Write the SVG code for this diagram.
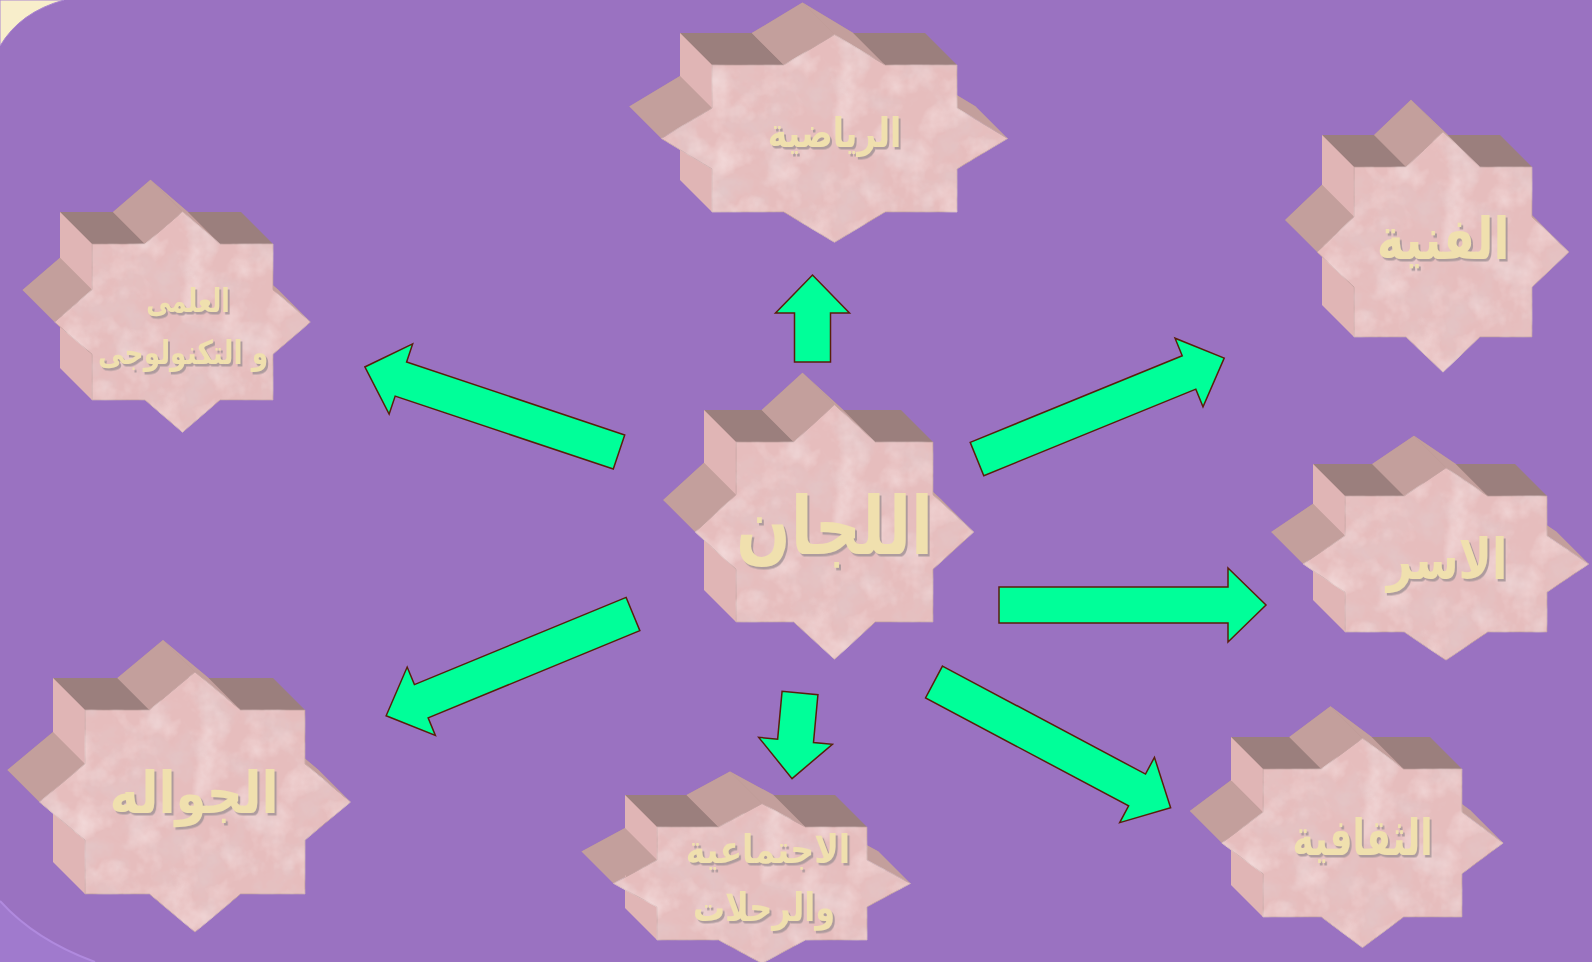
<svg xmlns="http://www.w3.org/2000/svg" width="1592" height="962" viewBox="0 0 1592 962">
<style>
.bk{fill:#b89592}
.md{fill:#c39f9c}
.dk{fill:#9b7f7d}
.lt{fill:#e0b5b5}
.fr{fill:#e6bdbd;stroke:#c4a3a1;stroke-width:1;filter:url(#granite)}
.tx{font-family:"DejaVu Sans",sans-serif;font-weight:bold;fill:#f0e0ae;text-anchor:middle;filter:url(#tsh)}
.ar{fill:#00ff99;stroke:#5a1e0a;stroke-width:1.5;stroke-linejoin:miter}
</style>
<defs>
<filter id="granite" x="0" y="0" width="1" height="1">
<feTurbulence type="fractalNoise" baseFrequency="0.03" numOctaves="4" seed="7" result="n"/>
<feColorMatrix in="n" type="matrix" values="0 0 0 0 0.76  0 0 0 0 0.58  0 0 0 0 0.59  1.7 0 0 0 -0.74" result="dkn"/>
<feColorMatrix in="n" type="matrix" values="0 0 0 0 0.95  0 0 0 0 0.8  0 0 0 0 0.8  0 1.3 0 0 -0.6" result="ltn"/>
<feMerge result="m"><feMergeNode in="SourceGraphic"/><feMergeNode in="dkn"/><feMergeNode in="ltn"/></feMerge>
<feComposite in="m" in2="SourceGraphic" operator="in"/>
</filter>
<filter id="tsh" x="-10%" y="-20%" width="130%" height="150%">
<feDropShadow dx="2.5" dy="2.5" stdDeviation="0.6" flood-color="#a8979a" flood-opacity="0.9"/>
</filter>
<polygon id="fA" points="0,-127.3 40.8,-90 98.5,-90 98.5,-37.3 139.3,0 98.5,37.3 98.5,90 40.8,90 0,127.3 -40.8,90 -98.5,90 -98.5,37.3 -139.3,0 -98.5,-37.3 -98.5,-90 -40.8,-90"/>
<polygon id="fB" points="0,-103.9 50.7,-73.5 122.5,-73.5 122.5,-30.4 173.2,0 122.5,30.4 122.5,73.5 50.7,73.5 0,103.9 -50.7,73.5 -122.5,73.5 -122.5,30.4 -173.2,0 -122.5,-30.4 -122.5,-73.5 -50.7,-73.5"/>
<polygon id="fC" points="0,-110.3 37.5,-78 90.5,-78 90.5,-32.3 128,0 90.5,32.3 90.5,78 37.5,78 0,110.3 -37.5,78 -90.5,78 -90.5,32.3 -128,0 -90.5,-32.3 -90.5,-78 -37.5,-78"/>
<polygon id="fD" points="0,-120.2 36.9,-85 89,-85 89,-35.2 125.9,0 89,35.2 89,85 36.9,85 0,120.2 -36.9,85 -89,85 -89,35.2 -125.9,0 -89,-35.2 -89,-85 -36.9,-85"/>
<polygon id="fE" points="0,-96.2 41.8,-68 101,-68 101,-28.2 142.8,0 101,28.2 101,68 41.8,68 0,96.2 -41.8,68 -101,68 -101,28.2 -142.8,0 -101,-28.2 -101,-68 -41.8,-68"/>
<polygon id="fF" points="0,-104.7 41.2,-74 99.5,-74 99.5,-30.7 140.7,0 99.5,30.7 99.5,74 41.2,74 0,104.7 -41.2,74 -99.5,74 -99.5,30.7 -140.7,0 -99.5,-30.7 -99.5,-74 -41.2,-74"/>
<polygon id="fG" points="0,-79.9 43.5,-56.5 105,-56.5 105,-23.4 148.5,0 105,23.4 105,56.5 43.5,56.5 0,79.9 -43.5,56.5 -105,56.5 -105,23.4 -148.5,0 -105,-23.4 -105,-56.5 -43.5,-56.5"/>
<polygon id="fH" points="0,-130.1 45.6,-92 110,-92 110,-38.1 155.6,0 110,38.1 110,92 45.6,92 0,130.1 -45.6,92 -110,92 -110,38.1 -155.6,0 -110,-38.1 -110,-92 -45.6,-92"/>
</defs>

<rect width="1592" height="962" fill="#9a72c1"/>
<path d="M0,0 H64 Q20,12 0,46 Z" fill="#f8eecb" stroke="#a985d0" stroke-width="1"/>
<path d="M0,901 Q35,940 95,962 L0,962 Z" fill="#a07acd"/>
<path d="M0,901 Q35,940 95,962" fill="none" stroke="#b08ade" stroke-width="2"/>

<g id="node-lijan" transform="translate(834.5,532)">
<use href="#fA" class="bk" transform="translate(-32,-32)"/>
<polygon class="md" points="0,-127.3 40.8,-90 8.8,-122 -32,-159.3"/>
<polygon class="md" points="98.5,-37.3 139.3,0 107.3,-32 66.5,-69.3"/>
<polygon class="dk" points="-98.5,-90 -40.8,-90 -72.8,-122 -130.5,-122"/>
<polygon class="dk" points="40.8,-90 98.5,-90 66.5,-122 8.8,-122"/>
<polygon class="md" points="-40.8,-90 0,-127.3 -32,-159.3 -72.8,-122"/>
<polygon class="md" points="-139.3,0 -98.5,-37.3 -130.5,-69.3 -171.3,-32"/>
<polygon class="lt" points="-98.5,-37.3 -98.5,-90 -130.5,-122 -130.5,-69.3"/>
<polygon class="lt" points="-98.5,90 -98.5,37.3 -130.5,5.3 -130.5,58"/>
<use href="#fA" class="fr"/>
<text class="tx" transform="translate(0,22) scale(0.8,1)" font-size="80">اللجان</text>
</g>

<g id="node-riyadiya" transform="translate(834.5,138.5)">
<use href="#fB" class="bk" transform="translate(-32,-32)"/>
<polygon class="md" points="0,-103.9 50.7,-73.5 18.7,-105.5 -32,-135.9"/>
<polygon class="md" points="122.5,-30.4 173.2,0 141.2,-32 90.5,-62.4"/>
<polygon class="dk" points="-122.5,-73.5 -50.7,-73.5 -82.7,-105.5 -154.5,-105.5"/>
<polygon class="dk" points="50.7,-73.5 122.5,-73.5 90.5,-105.5 18.7,-105.5"/>
<polygon class="md" points="-50.7,-73.5 0,-103.9 -32,-135.9 -82.7,-105.5"/>
<polygon class="md" points="-173.2,0 -122.5,-30.4 -154.5,-62.4 -205.2,-32"/>
<polygon class="lt" points="-122.5,-30.4 -122.5,-73.5 -154.5,-105.5 -154.5,-62.4"/>
<polygon class="lt" points="-122.5,73.5 -122.5,30.4 -154.5,-1.6 -154.5,41.5"/>
<use href="#fB" class="fr"/>
<text class="tx" transform="translate(0,8) scale(0.8,1)" font-size="41">الرياضية</text>
</g>

<g id="node-ilmi" transform="translate(182.5,322)">
<use href="#fC" class="bk" transform="translate(-32,-32)"/>
<polygon class="md" points="0,-110.3 37.5,-78 5.5,-110 -32,-142.3"/>
<polygon class="md" points="90.5,-32.3 128,0 96,-32 58.5,-64.3"/>
<polygon class="dk" points="-90.5,-78 -37.5,-78 -69.5,-110 -122.5,-110"/>
<polygon class="dk" points="37.5,-78 90.5,-78 58.5,-110 5.5,-110"/>
<polygon class="md" points="-37.5,-78 0,-110.3 -32,-142.3 -69.5,-110"/>
<polygon class="md" points="-128,0 -90.5,-32.3 -122.5,-64.3 -160,-32"/>
<polygon class="lt" points="-90.5,-32.3 -90.5,-78 -122.5,-110 -122.5,-64.3"/>
<polygon class="lt" points="-90.5,78 -90.5,32.3 -122.5,0.3 -122.5,46"/>
<use href="#fC" class="fr"/>
<text class="tx" transform="translate(5.5,-10) scale(0.75,1)" font-size="33">العلمى</text>
<text class="tx" transform="translate(0.5,42) scale(0.8,1)" font-size="33">و التكنولوجى</text>
</g>

<g id="node-fanniya" transform="translate(1443,252)">
<use href="#fD" class="bk" transform="translate(-32,-32)"/>
<polygon class="md" points="0,-120.2 36.9,-85 4.9,-117 -32,-152.2"/>
<polygon class="md" points="89,-35.2 125.9,0 93.9,-32 57,-67.2"/>
<polygon class="dk" points="-89,-85 -36.9,-85 -68.9,-117 -121,-117"/>
<polygon class="dk" points="36.9,-85 89,-85 57,-117 4.9,-117"/>
<polygon class="md" points="-36.9,-85 0,-120.2 -32,-152.2 -68.9,-117"/>
<polygon class="md" points="-125.9,0 -89,-35.2 -121,-67.2 -157.9,-32"/>
<polygon class="lt" points="-89,-35.2 -89,-85 -121,-117 -121,-67.2"/>
<polygon class="lt" points="-89,85 -89,35.2 -121,3.2 -121,53"/>
<use href="#fD" class="fr"/>
<text class="tx" transform="translate(0,7) scale(0.8,1)" font-size="58">الفنية</text>
</g>

<g id="node-usar" transform="translate(1446,564)">
<use href="#fE" class="bk" transform="translate(-32,-32)"/>
<polygon class="md" points="0,-96.2 41.8,-68 9.8,-100 -32,-128.2"/>
<polygon class="md" points="101,-28.2 142.8,0 110.8,-32 69,-60.2"/>
<polygon class="dk" points="-101,-68 -41.8,-68 -73.8,-100 -133,-100"/>
<polygon class="dk" points="41.8,-68 101,-68 69,-100 9.8,-100"/>
<polygon class="md" points="-41.8,-68 0,-96.2 -32,-128.2 -73.8,-100"/>
<polygon class="md" points="-142.8,0 -101,-28.2 -133,-60.2 -174.8,-32"/>
<polygon class="lt" points="-101,-28.2 -101,-68 -133,-100 -133,-60.2"/>
<polygon class="lt" points="-101,68 -101,28.2 -133,-3.8 -133,36"/>
<use href="#fE" class="fr"/>
<text class="tx" transform="translate(1,15) scale(0.8,1)" font-size="56">الاسر</text>
</g>

<g id="node-thaqafiya" transform="translate(1362.5,843)">
<use href="#fF" class="bk" transform="translate(-32,-32)"/>
<polygon class="md" points="0,-104.7 41.2,-74 9.2,-106 -32,-136.7"/>
<polygon class="md" points="99.5,-30.7 140.7,0 108.7,-32 67.5,-62.7"/>
<polygon class="dk" points="-99.5,-74 -41.2,-74 -73.2,-106 -131.5,-106"/>
<polygon class="dk" points="41.2,-74 99.5,-74 67.5,-106 9.2,-106"/>
<polygon class="md" points="-41.2,-74 0,-104.7 -32,-136.7 -73.2,-106"/>
<polygon class="md" points="-140.7,0 -99.5,-30.7 -131.5,-62.7 -172.7,-32"/>
<polygon class="lt" points="-99.5,-30.7 -99.5,-74 -131.5,-106 -131.5,-62.7"/>
<polygon class="lt" points="-99.5,74 -99.5,30.7 -131.5,-1.3 -131.5,42"/>
<use href="#fF" class="fr"/>
<text class="tx" transform="translate(0,12) scale(0.72,1)" font-size="50">الثقافية</text>
</g>

<g id="node-ijtimaiya" transform="translate(762,883.5)">
<use href="#fG" class="bk" transform="translate(-32,-32)"/>
<polygon class="md" points="0,-79.9 43.5,-56.5 11.5,-88.5 -32,-111.9"/>
<polygon class="md" points="105,-23.4 148.5,0 116.5,-32 73,-55.4"/>
<polygon class="dk" points="-105,-56.5 -43.5,-56.5 -75.5,-88.5 -137,-88.5"/>
<polygon class="dk" points="43.5,-56.5 105,-56.5 73,-88.5 11.5,-88.5"/>
<polygon class="md" points="-43.5,-56.5 0,-79.9 -32,-111.9 -75.5,-88.5"/>
<polygon class="md" points="-148.5,0 -105,-23.4 -137,-55.4 -180.5,-32"/>
<polygon class="lt" points="-105,-23.4 -105,-56.5 -137,-88.5 -137,-55.4"/>
<polygon class="lt" points="-105,56.5 -105,23.4 -137,-8.6 -137,24.5"/>
<use href="#fG" class="fr"/>
<text class="tx" transform="translate(6,-21) scale(0.85,1)" font-size="39">الاجتماعية</text>
<text class="tx" transform="translate(2,37) scale(0.82,1)" font-size="39">والرحلات</text>
</g>

<g id="node-jawwala" transform="translate(195,802)">
<use href="#fH" class="bk" transform="translate(-32,-32)"/>
<polygon class="md" points="0,-130.1 45.6,-92 13.6,-124 -32,-162.1"/>
<polygon class="md" points="110,-38.1 155.6,0 123.6,-32 78,-70.1"/>
<polygon class="dk" points="-110,-92 -45.6,-92 -77.6,-124 -142,-124"/>
<polygon class="dk" points="45.6,-92 110,-92 78,-124 13.6,-124"/>
<polygon class="md" points="-45.6,-92 0,-130.1 -32,-162.1 -77.6,-124"/>
<polygon class="md" points="-155.6,0 -110,-38.1 -142,-70.1 -187.6,-32"/>
<polygon class="lt" points="-110,-38.1 -110,-92 -142,-124 -142,-70.1"/>
<polygon class="lt" points="-110,92 -110,38.1 -142,6.1 -142,60"/>
<use href="#fH" class="fr"/>
<text class="tx" transform="translate(-1,11) scale(0.86,1)" font-size="58">الجواله</text>
</g>

<g id="connectors">
<polygon class="ar" transform="translate(812.5,362) rotate(-90)" points="0,-18 49,-18 49,-37 87,0 49,37 49,18 0,18"/>
<polygon class="ar" transform="translate(619,452) rotate(-161.5)" points="0,-18 230,-18 230,-37 268,0 230,37 230,18 0,18"/>
<polygon class="ar" transform="translate(977,459) rotate(-22.2)" points="0,-18 229,-18 229,-37 267,0 229,37 229,18 0,18"/>
<polygon class="ar" transform="translate(999,605)" points="0,-18 229,-18 229,-37 267,0 229,37 229,18 0,18"/>
<polygon class="ar" transform="translate(934,682) rotate(28)" points="0,-18 230,-18 230,-37 268,0 230,37 230,18 0,18"/>
<polygon class="ar" transform="translate(800,693) rotate(95.3)" points="0,-18 48,-18 48,-37 86,0 48,37 48,18 0,18"/>
<polygon class="ar" transform="translate(633,614) rotate(157.6)" points="0,-18 229,-18 229,-37 267,0 229,37 229,18 0,18"/>
</g>
</svg>
